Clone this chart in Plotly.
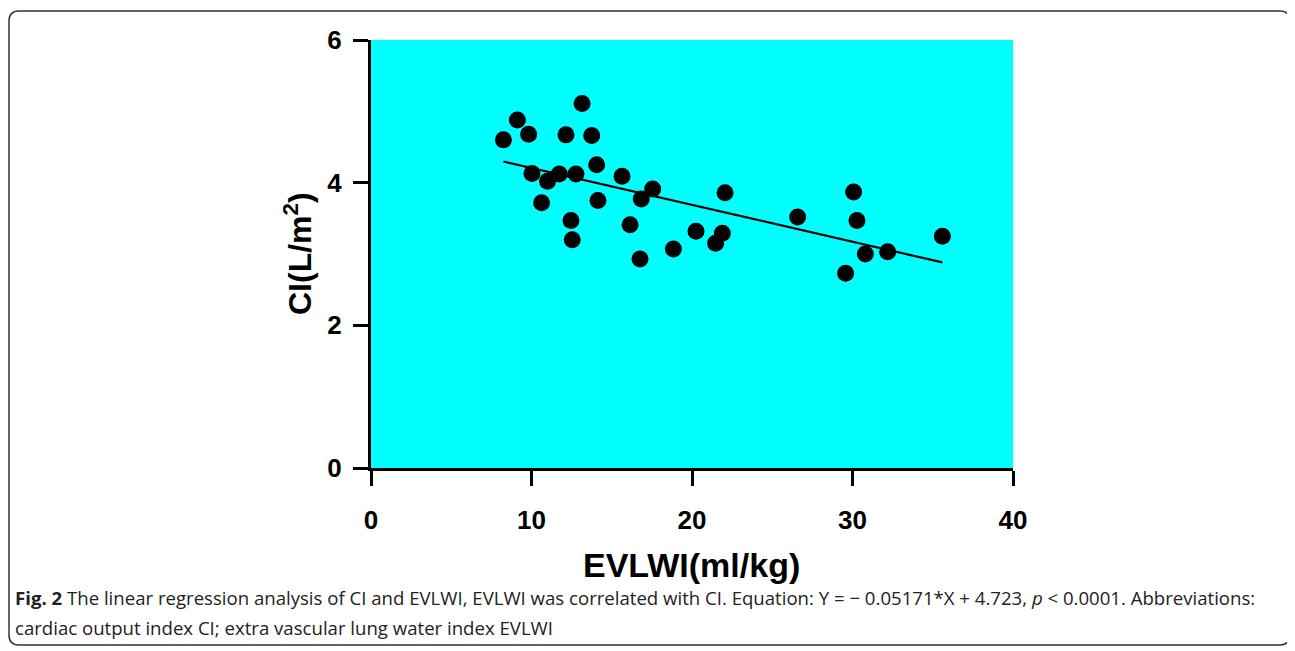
import plotly.graph_objects as go

# ---- data ----
evlwi = [8.25, 9.12, 9.82, 10.03, 11.0, 10.63, 11.73, 12.15, 13.15, 12.77,
         12.46, 12.54, 13.75, 14.06, 14.14, 15.64, 17.55, 16.84, 16.14, 16.76,
         18.84, 20.25, 21.47, 21.89, 22.06, 26.58, 30.07, 30.28, 29.57, 30.80,
         32.19, 35.6]
ci = [4.60, 4.88, 4.68, 4.13, 4.02, 3.72, 4.12, 4.67, 5.11, 4.12,
      3.47, 3.20, 4.66, 4.25, 3.75, 4.09, 3.91, 3.77, 3.41, 2.93,
      3.07, 3.32, 3.15, 3.29, 3.86, 3.52, 3.87, 3.47, 2.73, 3.00,
      3.03, 3.25]
slope = -0.05171
intercept = 4.723
x_ticks = [0, 10, 20, 30, 40]
y_ticks = [0, 2, 4, 6]

# page has an 8px body margin: build figure in shifted pixel space
OFF = 8
W, H = 1295 - OFF, 651 - OFF
L, R, T, B = 371 - OFF, 1013 - OFF, 40 - OFF, 468 - OFF

def px(x):
    return (x - OFF - L) / (R - L)

def py(y):
    return (B - (y - OFF)) / (B - T)

line_x = [min(evlwi), max(evlwi)]
line_y = [slope * v + intercept for v in line_x]

fig = go.Figure()
fig.add_trace(go.Scatter(x=line_x, y=line_y, mode="lines",
                         line=dict(color="black", width=2.2), showlegend=False))
fig.add_trace(go.Scatter(x=evlwi, y=ci, mode="markers",
                         marker=dict(color="black", size=17, line=dict(width=0)),
                         showlegend=False))

axis_font = dict(family="Liberation Sans, Arial", size=26, color="black", weight="bold")
fig.update_xaxes(range=[0, 40], tickvals=x_ticks, showgrid=False, zeroline=False,
                 showline=True, linecolor="black", linewidth=3,
                 ticks="outside", ticklen=15, tickwidth=3, tickcolor="black",
                 tickfont=axis_font, ticklabelstandoff=12)
fig.update_yaxes(range=[0, 6], tickvals=y_ticks, showgrid=False, zeroline=False,
                 showline=True, linecolor="black", linewidth=3,
                 ticks="outside", ticklen=15, tickwidth=3, tickcolor="black",
                 tickfont=axis_font, ticklabelstandoff=6)

title_font = dict(family="Liberation Sans, Arial", size=34, color="black", weight="bold")
cap_font = dict(family="Open Sans, Noto Sans", size=18.6, color="#222")
annotations = [
    dict(text="EVLWI(ml/kg)", x=px(691), y=py(565), xref="paper", yref="paper",
         showarrow=False, font=title_font, xanchor="center", yanchor="middle"),
    dict(text="CI(L/m<sup>2</sup>)", x=px(298), y=py(254), xref="paper", yref="paper",
         showarrow=False, font=dict(title_font, size=32), textangle=-90,
         xanchor="center", yanchor="middle"),
    dict(text="<b>Fig. 2</b> The linear regression analysis of CI and EVLWI, EVLWI was correlated with CI. "
              "Equation: Y = \u2212 0.05171*X + 4.723, <i>p</i> &lt; 0.0001. Abbreviations:",
         x=px(13), y=py(597), xref="paper", yref="paper", showarrow=False,
         font=cap_font, xanchor="left", yanchor="middle"),
    dict(text="cardiac output index CI; extra vascular lung water index EVLWI",
         x=px(13), y=py(627), xref="paper", yref="paper", showarrow=False,
         font=cap_font, xanchor="left", yanchor="middle"),
]

# rounded border
x0, x1, y0, y1, r = 9, 1290, 11, 645, 10
path = (f"M {px(x0+r)},{py(y0)} L {px(x1-r)},{py(y0)} Q {px(x1)},{py(y0)} {px(x1)},{py(y0+r)} "
        f"L {px(x1)},{py(y1-r)} Q {px(x1)},{py(y1)} {px(x1-r)},{py(y1)} "
        f"L {px(x0+r)},{py(y1)} Q {px(x0)},{py(y1)} {px(x0)},{py(y1-r)} "
        f"L {px(x0)},{py(y0+r)} Q {px(x0)},{py(y0)} {px(x0+r)},{py(y0)} Z")
shapes = [dict(type="path", path=path, xref="paper", yref="paper",
               line=dict(color="#333", width=1.5), layer="below")]

fig.update_layout(width=W, height=H, margin=dict(l=L, r=W - R, t=T, b=H - B),
                  plot_bgcolor="#00FFFF", paper_bgcolor="white",
                  annotations=annotations, shapes=shapes)
fig.write_html("out.html")
